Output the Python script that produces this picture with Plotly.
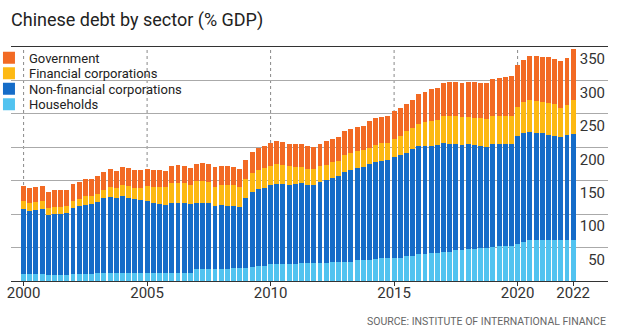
import plotly.graph_objects as go

# % of GDP, quarterly 2000Q1 .. 2022Q2
households = [10, 10, 10, 10, 9, 9, 9, 9, 11, 11, 11, 11, 12, 12, 12, 12,
              12, 12, 12, 12, 12, 12, 12, 12, 12, 12, 12, 12, 18, 18, 18, 18,
              18, 18, 19, 20, 20, 21, 22, 22, 25, 26, 26, 26, 26, 27, 27, 27,
              27, 27, 29, 29, 29, 29, 31, 32, 32, 33, 34, 34, 35, 35, 37, 37,
              40, 40, 42, 42, 44, 44, 47, 47, 48, 48, 50, 50, 51, 52, 52, 53,
              56, 58, 61, 61, 61, 61, 61, 61, 61, 62]
non_financial = [97.5, 94.5, 96, 97.5, 89.5, 91.5, 91.5, 92, 98, 101, 102.5, 104.5,
                 106, 112.5, 114, 112.5, 115.5, 112.5, 110, 108.5, 107.5, 104, 103.5, 101,
                 104.5, 104.5, 104, 102.5, 98, 98.5, 98, 94.5, 95.5, 94.5, 92.5, 91,
                 104.5, 112, 115.5, 117.5, 118, 119, 119, 118, 119.5, 119, 116.5, 117,
                 120.5, 124, 125.5, 127.5, 134, 137.5, 138, 138, 143, 145.5, 146, 147,
                 150.5, 153.5, 154.5, 160, 161.5, 161.5, 160, 161, 162, 161.5, 158, 157,
                 156.5, 155.5, 152, 150, 153.5, 152.5, 153.5, 151.5, 161, 163.5, 162.5, 160.5,
                 160, 158, 156.5, 154, 157.5, 158]
financial = [12.5, 11.5, 11.5, 12, 11, 10.5, 10.5, 10.5, 11, 10.5, 13, 12,
             12, 11.5, 14, 14, 15.5, 17.5, 17, 18.5, 22.5, 24, 24.5, 27,
             30.5, 30.5, 30, 29, 33.5, 33.5, 31.5, 28.5, 30, 30.5, 31.5, 30,
             28, 28.5, 29, 29, 29, 30, 29, 27.5, 25.5, 24, 24.5, 23.5,
             24.5, 23, 23, 23.5, 25.5, 25, 25, 25.5, 24.5, 25.5, 26, 26,
             27.5, 29, 32.5, 32, 33.5, 36.5, 37, 37.5, 40.5, 41, 41.5, 41,
             40.5, 41, 41.5, 42.5, 43, 43, 42, 43, 44, 45.5, 47.5, 47,
             47, 47, 47, 44.5, 45, 51]
government = [22, 22.5, 22.5, 23, 24, 24.5, 24.5, 24.5, 24.5, 25, 25.5, 25.5,
              26.5, 27, 27.5, 26, 27.5, 26.5, 27, 27.5, 26, 26.5, 26, 25,
              25.5, 26.5, 26, 25.5, 25.5, 27, 28, 29, 29, 28.5, 27, 26.5,
              28.5, 31.5, 33, 34, 34.5, 34.5, 34.5, 34, 34, 34.5, 34, 33.5,
              33.5, 35, 35, 35, 35.5, 35.5, 36.5, 36, 39.5, 40, 40, 40,
              41.5, 41, 41, 42, 44, 45, 47.5, 48, 49, 50.5, 51, 50.5,
              53, 53, 53, 53, 54.5, 56, 57, 58.5, 61.5, 64, 66, 68,
              67.5, 69, 67, 69.5, 70, 76.5]

quarters = [2000 + k / 4 for k in range(len(households))]

x_tick_vals = [2000, 2005, 2010, 2015, 2020, 2022.25]
x_tick_text = ["2000", "2005", "2010", "2015", "2020", "2022"]
y_tick_vals = [50, 100, 150, 200, 250, 300, 350]
divider_years = [2000, 2005, 2010, 2015, 2020]

FONT = "Roboto, 'Open Sans', sans-serif"

# legend rows: centre pixel rows 57.75, 73.25, 88.75, 104.25 (plot spans 47..281 px)
series = [
    ("Households", households, "#52C3F0", "legend4", (281 - 104.25) / 234),
    ("Non-financial corporations", non_financial, "#156CC8", "legend3", (281 - 88.75) / 234),
    ("Financial corporations", financial, "#FDB913", "legend2", (281 - 73.25) / 234),
    ("Government", government, "#F26A24", "legend", (281 - 57.75) / 234),
]

fig = go.Figure()
legend_layouts = {}
for name, vals, color, leg, ly in series:
    fig.add_trace(go.Bar(
        x=quarters, y=vals, name=name, width=0.2,
        marker=dict(color=color, line=dict(width=0)),
        legend=leg,
    ))
    legend_layouts[leg] = dict(
        x=-0.0369, xanchor="left", y=ly, yanchor="middle",
        bgcolor="rgba(0,0,0,0)", borderwidth=0,
        font=dict(family=FONT, size=13, color="#222222"),
    )

for yr in divider_years:
    fig.add_shape(type="line", xref="x", yref="y", x0=yr, x1=yr, y0=0, y1=350,
                  line=dict(color="#888888", width=1, dash="dot"), layer="below")

# white panel behind the legend that hides the 300 gridline there
fig.add_shape(type="rect", xref="paper", yref="y", x0=0, x1=0.313, y0=292, y1=308,
              fillcolor="white", line=dict(width=0), layer="between")

fig.update_layout(
    width=620, height=334,
    margin=dict(l=11, r=12, t=47, b=53, autoexpand=False),
    paper_bgcolor="white", plot_bgcolor="white",
    barmode="stack",
    showlegend=True,
    font=dict(family=FONT, color="#333333"),
    title=dict(text="Chinese debt by sector (% GDP)", x=11 / 620, xanchor="left",
               xref="container", y=1 - 20 / 334, yanchor="middle", yref="container",
               font=dict(family=FONT, size=18, color="#222222")),
    xaxis=dict(range=[1999.49, 2023.66], tickmode="array", tickvals=x_tick_vals,
               ticktext=x_tick_text, ticks="outside", ticklen=4, tickcolor="#333333",
               ticklabelstandoff=-6,
               showgrid=False, zeroline=False, showline=True, mirror=True,
               linecolor="#333333", linewidth=1,
               tickfont=dict(family=FONT, size=15, color="#333333")),
    yaxis=dict(range=[0, 350], side="right", tickmode="array", tickvals=y_tick_vals,
               ticklabelposition="inside", ticklabelshift=12, ticks="",
               showgrid=True, gridcolor="#aaaaaa", gridwidth=1, zeroline=False,
               showline=False, tickfont=dict(family=FONT, size=15, color="#333333")),
    annotations=[dict(text="SOURCE: INSTITUTE OF INTERNATIONAL FINANCE", xref="paper",
                      yref="paper", x=1, xanchor="right", y=(281 - 321) / 234,
                      yanchor="middle", showarrow=False,
                      font=dict(family=FONT, size=10.5, color="#666666"))],
    **legend_layouts,
)

fig.write_html("out.html")
